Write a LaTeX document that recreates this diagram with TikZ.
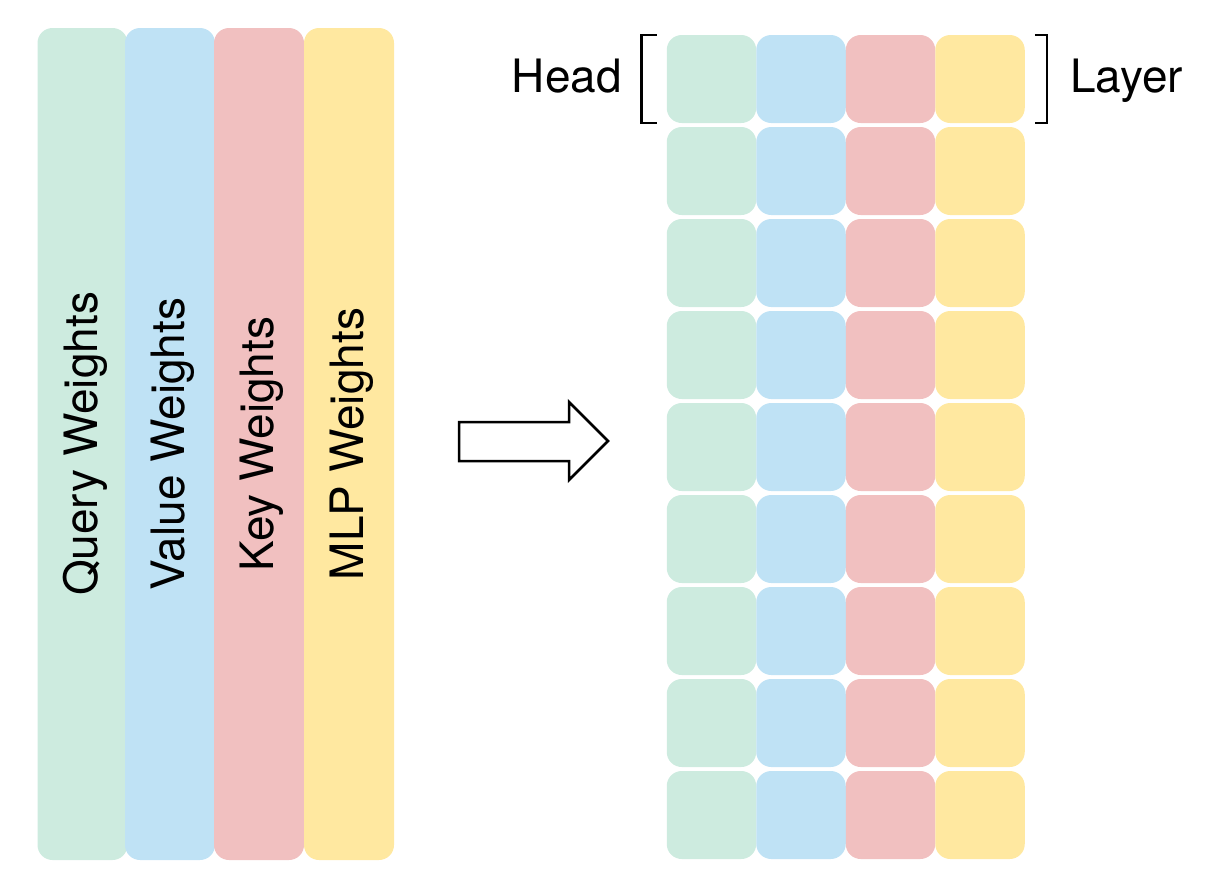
\documentclass[tikz,border=0pt]{standalone}
\usepackage{fontspec}
\setmainfont{TeX Gyre Heros}
\definecolor{querycol}{RGB}{205,235,223}
\definecolor{valuecol}{RGB}{191,226,245}
\definecolor{keycol}{RGB}{241,192,192}
\definecolor{mlpcol}{RGB}{255,232,160}
\newcommand{\colname}[1]{\raisebox{-3pt}[\height][\depth]{#1}}
\tikzset{
	weightcol/.style = {rotate = 90, minimum width = 832pt, minimum height = 90pt, inner sep = 0pt, rounded corners = 15pt, font = \fontsize{46}{55}\selectfont},
	cell/.style = {minimum width = 89.5pt, minimum height = 88pt, inner sep = 0pt, rounded corners = 15pt},
	bracket/.style = {line width = 2.5pt},
	label/.style = {font = \fontsize{46}{55}\selectfont, inner sep = 0pt}
}
\begin{document}
\begin{tikzpicture}[x = 1pt, y = -1pt]
				\useasboundingbox (0, 0) rectangle (1208, 884);
					% the four weight columns
					\node (query) at (82.5, 444) [weightcol, fill = querycol] {\colname{Query Weights}};
					\node (value) at (170, 444) [weightcol, fill = valuecol] {\colname{Value Weights}};
					\node (key) at (259, 444) [weightcol, fill = keycol] {\colname{Key Weights}};
					\node (mlp) at (349, 444) [weightcol, fill = mlpcol] {\colname{MLP Weights}};
					% big arrow
					\draw[line width = 2.5pt, line join = miter] (459, 422) -- (569, 422) -- (569, 402) -- (608, 441) -- (569, 480) -- (569, 461) -- (459, 461) -- cycle;
					% grid of heads and layers
					\foreach \r in {0, ..., 8} {
						\node (q\r) at (711.5, 79 + 92*\r) [cell, fill = querycol] {};
						\node (v\r) at (801, 79 + 92*\r) [cell, fill = valuecol] {};
						\node (k\r) at (890.5, 79 + 92*\r) [cell, fill = keycol] {};
						\node (m\r) at (980, 79 + 92*\r) [cell, fill = mlpcol] {};
					}
					% brackets round the first row
						\draw[bracket] ([xshift = -10pt]q0.north west) -- ([xshift = -25pt]q0.north west) -- ([xshift = -25pt]q0.south west) -- ([xshift = -10pt]q0.south west);
						\draw[bracket] ([xshift = 10pt]m0.north east) -- ([xshift = 22pt]m0.north east) -- ([xshift = 22pt]m0.south east) -- ([xshift = 10pt]m0.south east);
					\node (head) at (622, 92) [label, anchor = base east] {Head};
					\node (layer) at (1070, 92) [label, anchor = base west] {Layer};
				\end{tikzpicture}
\end{document}
